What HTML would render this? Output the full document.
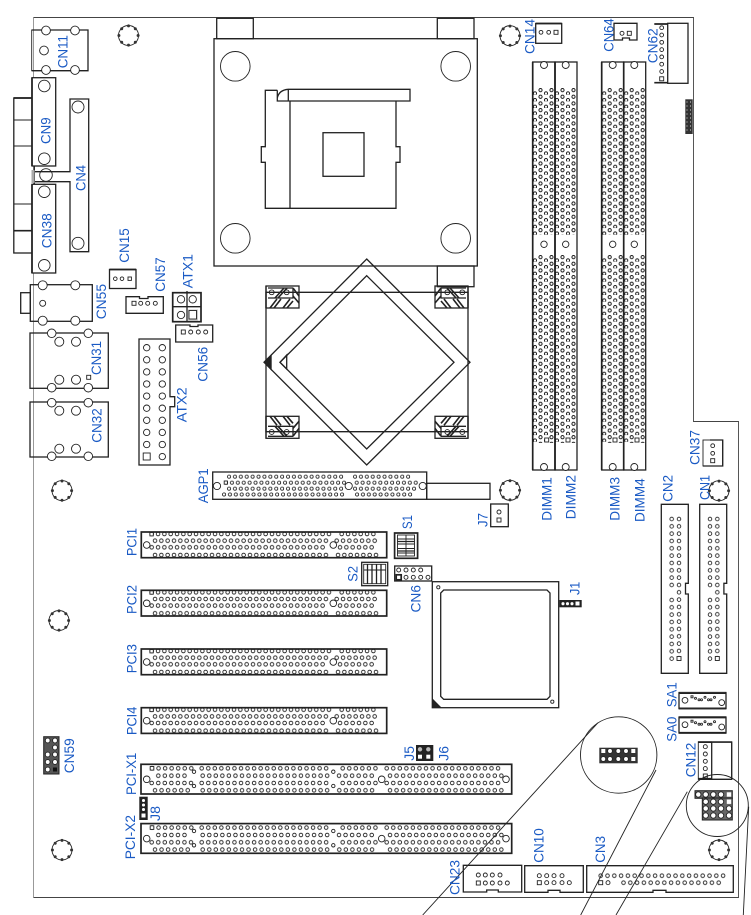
<!DOCTYPE html>
<html><head><meta charset="utf-8"><style>
html,body{margin:0;padding:0;background:#fff}
svg{display:block}
text{font-family:"Liberation Sans",Arial,sans-serif;font-size:14px;fill:#1a5ac4;stroke:none}
.h{stroke-width:1.7}
.m{stroke-width:1.3}
.t{stroke-width:.9}
.w{fill:#fff}
</style></head><body>
<svg xmlns="http://www.w3.org/2000/svg" width="751" height="915" viewBox="0 0 751 915">
<defs>
<pattern id="p" width="6.33" height="6" patternUnits="userSpaceOnUse"><circle cx="3" cy="3" r="1.8" fill="#fff" stroke="#1a1a1a" stroke-width=".85"/></pattern>
<pattern id="q" width="6.55" height="6" patternUnits="userSpaceOnUse"><circle cx="3" cy="3" r="1.8" fill="#fff" stroke="#1a1a1a" stroke-width=".85"/></pattern>
<pattern id="a" width="5.9" height="5" patternUnits="userSpaceOnUse"><circle cx="2.5" cy="2.5" r="1.6" fill="#fff" stroke="#1a1a1a" stroke-width=".8"/></pattern>
<pattern id="c" width="6.8" height="6" patternUnits="userSpaceOnUse"><circle cx="3" cy="3" r="1.8" fill="#fff" stroke="#1a1a1a" stroke-width=".85"/></pattern>
<pattern id="v" width="6" height="7.33" patternUnits="userSpaceOnUse"><circle cx="3" cy="3" r="1.8" fill="#fff" stroke="#1a1a1a" stroke-width=".85"/></pattern>
<pattern id="d" width="11" height="6.67" patternUnits="userSpaceOnUse"><circle cx="2.5" cy="5.4" r="1.6" fill="#fff" stroke="#111" stroke-width=".9"/><circle cx="8" cy="2.1" r="1.6" fill="#fff" stroke="#111" stroke-width=".9"/></pattern>
<g id="sc" fill="none" stroke="#222"><circle r="10" stroke-width=".9"/><g fill="#333" stroke="none"><circle cx="0" cy="-9.6" r="1.5"/><circle cx="6.8" cy="-6.8" r="1.5"/><circle cx="9.6" cy="0" r="1.5"/><circle cx="6.8" cy="6.8" r="1.5"/><circle cx="0" cy="9.6" r="1.5"/><circle cx="-6.8" cy="6.8" r="1.5"/><circle cx="-9.6" cy="0" r="1.5"/><circle cx="-6.8" cy="-6.8" r="1.5"/></g></g>
<g id="pci" fill="none" stroke="#222">
<rect transform="translate(7.4,-1)" width="183.3" height="6" fill="url(#p)" stroke="none"/>
<rect transform="translate(197.4,-1)" width="37.7" height="6" fill="url(#p)" stroke="none"/>
<rect transform="translate(10.7,5.7)" width="177" height="6" fill="url(#p)" stroke="none"/>
<rect transform="translate(192.4,5.7)" width="44" height="6" fill="url(#p)" stroke="none"/>
<rect transform="translate(7.4,12.3)" width="177" height="6" fill="url(#p)" stroke="none"/>
<rect transform="translate(195.7,12.3)" width="37.7" height="6" fill="url(#p)" stroke="none"/>
<rect transform="translate(10.7,20)" width="177" height="6" fill="url(#p)" stroke="none"/>
<rect transform="translate(193.7,20)" width="44" height="6" fill="url(#p)" stroke="none"/>
<rect x="8.6" y="0.5" width="3.4" height="3.4" class="w t"/>
<circle cx="5.4" cy="13" r="3.3" class="w t"/><circle cx="192" cy="13" r="3.3" class="w t"/>
<rect x="0" y="0" width="245.4" height="25.7" class="h"/>
</g>
<g id="pcix" fill="none" stroke="#222">
<rect transform="translate(8,1)" width="45.3" height="6" fill="url(#q)" stroke="none"/>
<circle cx="53" cy="7.4" r="1.7" class="w t"/>
<rect transform="translate(57.7,1)" width="130.5" height="6" fill="url(#q)" stroke="none"/>
<circle cx="192.3" cy="7.4" r="1.7" class="w t"/>
<rect transform="translate(198.7,1)" width="38.8" height="6" fill="url(#q)" stroke="none"/>
<rect transform="translate(242.7,1)" width="117.4" height="6" fill="url(#q)" stroke="none"/>
<rect transform="translate(14.3,8.4)" width="32.2" height="6" fill="url(#q)" stroke="none"/>
<rect transform="translate(58.7,8.4)" width="130.5" height="6" fill="url(#q)" stroke="none"/>
<rect transform="translate(195,8.4)" width="38.8" height="6" fill="url(#q)" stroke="none"/>
<rect transform="translate(246,8.4)" width="117.4" height="6" fill="url(#q)" stroke="none"/>
<rect transform="translate(7.7,15.7)" width="45.3" height="6" fill="url(#q)" stroke="none"/>
<circle cx="53" cy="21.7" r="1.7" class="w t"/>
<rect transform="translate(57.7,15.7)" width="130.5" height="6" fill="url(#q)" stroke="none"/>
<circle cx="192.3" cy="21.7" r="1.7" class="w t"/>
<rect transform="translate(198.7,15.7)" width="38.8" height="6" fill="url(#q)" stroke="none"/>
<rect transform="translate(242.7,15.7)" width="117.4" height="6" fill="url(#q)" stroke="none"/>
<rect transform="translate(11,23)" width="38.8" height="6" fill="url(#q)" stroke="none"/>
<rect transform="translate(58.7,23)" width="130.5" height="6" fill="url(#q)" stroke="none"/>
<rect transform="translate(195.3,23)" width="38.8" height="6" fill="url(#q)" stroke="none"/>
<rect transform="translate(246,23)" width="117.4" height="6" fill="url(#q)" stroke="none"/>
<rect x="9.2" y="2.2" width="3.6" height="3.6" class="w t"/>
<circle cx="5.7" cy="15" r="3.3" class="w t"/><circle cx="240.7" cy="15" r="3.3" class="w t"/><circle cx="365" cy="15" r="3.3" class="w t"/>
<rect x="0" y="0" width="370.7" height="29.7" class="h"/>
</g>
<g id="clip" fill="none" stroke="#222">
<rect x="0" y="0" width="33" height="22" class="m"/>
<path d="M2 12H27V2M2 2H27M0 0V22" class="m"/>
<circle cx="5.7" cy="6.3" r="2.4" class="t"/><circle cx="20.7" cy="6.3" r="2.4" class="t"/>
<path d="M9 12L18 2M12 12L21 2M4 22L11 13M8 22L15 13M17 22L24 13M21 22L27 15M27 2L33 10M27 10L33 17" stroke-width="1.6"/>
</g>
<g id="sa" fill="none" stroke="#222">
<rect x="0" y="0" width="47" height="16.7" class="t"/>
<path d="M0 0V16.7M0 1H47M47 0V16.7M0 15.8H47" class="m"/>
<circle cx="6" cy="8" r="2.9" class="t"/><circle cx="42.7" cy="10.3" r="2.9" class="t"/>
<rect x="12" y="3.5" width="2" height="2" class="t"/>
<g class="t"><circle cx="16.5" cy="6" r="1"/><circle cx="20" cy="7.5" r="1"/><circle cx="22.5" cy="7.5" r="1"/><circle cx="26" cy="5" r="1"/><circle cx="29.5" cy="7.5" r="1"/><circle cx="32" cy="7.5" r="1"/><circle cx="35.5" cy="5" r="1"/></g>
</g>
</defs>

<!-- board outline -->
<path d="M33.5 17.5V897.5" fill="none" stroke="#999" stroke-width="1"/>
<path d="M33.5 17.5H693.5V421.5H738.5V897.5H33.5" fill="none" stroke="#444" stroke-width=".9"/>

<g fill="none" stroke="#222" stroke-width="1">
<use href="#sc" x="128.5" y="35.5"/><use href="#sc" x="510" y="35.7"/><use href="#sc" x="62" y="490.6"/><use href="#sc" x="510" y="490.3"/><use href="#sc" x="719" y="490.7"/><use href="#sc" x="59" y="620.5"/><use href="#sc" x="62" y="850"/><use href="#sc" x="719" y="850"/>

<!-- CN11 -->
<rect x="31.7" y="30" width="56.3" height="40.7" class="t"/>
<path d="M31.7 30H88V70.7H31.7" class="m"/>
<circle cx="46" cy="30.5" r="4.4" class="w t"/><circle cx="75" cy="30.5" r="4.4" class="w t"/><circle cx="44" cy="50.5" r="4.4" class="t"/><circle cx="46" cy="70" r="4.4" class="w t"/><circle cx="75" cy="70" r="4.4" class="w t"/>

<!-- DB connector -->
<rect x="13.8" y="98" width="20.5" height="155" class="m"/>
<path d="M13.8 98H34.3" class="h"/><path d="M13.8 120H32M13.8 146H32M13.8 204H32" class="t"/><path d="M13.8 230.7H32" class="h"/>
<path d="M34 99V166M34 184V253" class="h"/>
<path d="M33 170V183" stroke="#aaa" stroke-width="3"/>
<path d="M35 171.7H70V99H88.7V251.7H70V181.7H35" class="m"/>
<circle cx="78" cy="107" r="6" class="t"/><circle cx="78" cy="243.3" r="6" class="t"/>
<circle cx="46" cy="175" r="6.3" class="t"/>
<rect x="32" y="77.7" width="23.7" height="88.3" class="w m"/><path d="M32 77.7V166" class="h"/>
<rect x="32" y="184.3" width="23.7" height="88.7" class="w m"/><path d="M32 184.3V273" class="h"/>
<circle cx="44.3" cy="86" r="5.8" class="t"/><circle cx="44.3" cy="158.7" r="5.8" class="t"/><circle cx="44.3" cy="191.7" r="5.8" class="t"/><circle cx="44.3" cy="265.3" r="5.8" class="t"/>

<!-- CN15 -->
<rect x="109.5" y="269.5" width="26.5" height="19" class="m"/><path d="M109.5 269.5H136" class="h"/>
<circle cx="115.3" cy="278.7" r="1.8" class="t"/><circle cx="122" cy="278.7" r="1.8" class="t"/><rect x="128" y="277" width="3.4" height="3.4" class="t"/>

<!-- CN55 -->
<rect x="20.7" y="292.7" width="9.6" height="20.6" class="m"/>
<rect x="30.3" y="284.7" width="62" height="36.6" class="m"/>
<circle cx="42.7" cy="285.3" r="4.5" class="w t"/><circle cx="75.3" cy="285.3" r="4.5" class="w t"/><circle cx="42.7" cy="320.7" r="4.5" class="w t"/><circle cx="75.3" cy="320.7" r="4.5" class="w t"/><circle cx="42.7" cy="303.3" r="3" class="t"/>

<!-- CN31 / CN32 -->
<rect x="30" y="333" width="78.3" height="55.3" class="m"/>
<circle cx="51.7" cy="333.3" r="4.3" class="w t"/><circle cx="88.3" cy="333.3" r="4.3" class="w t"/><circle cx="51.7" cy="387.7" r="4.3" class="w t"/><circle cx="88.3" cy="387.7" r="4.3" class="w t"/>
<circle cx="59.3" cy="341.7" r="4.5" class="t"/><circle cx="76" cy="341.7" r="4.5" class="t"/><circle cx="59.3" cy="379.7" r="4.5" class="t"/><circle cx="76" cy="379.7" r="4.5" class="t"/>
<rect x="86.7" y="375.3" width="4" height="4" class="t"/>
<rect x="30" y="402" width="78.3" height="55" class="m"/>
<circle cx="51.7" cy="402.7" r="4.3" class="w t"/><circle cx="88.3" cy="402.7" r="4.3" class="w t"/><circle cx="51.7" cy="456.3" r="4.3" class="w t"/><circle cx="88.3" cy="456.3" r="4.3" class="w t"/>
<circle cx="59.3" cy="410.7" r="4.5" class="t"/><circle cx="76" cy="410.7" r="4.5" class="t"/><circle cx="59.3" cy="448.7" r="4.5" class="t"/><circle cx="76" cy="448.7" r="4.5" class="t"/>

<!-- ATX2 -->
<path d="M139 339H170V396.7H174.7V406.7H170V465H139Z" class="m"/>
<g class="t">
<circle cx="146.7" cy="347.7" r="3.2"/><circle cx="162.3" cy="347.7" r="3.2"/><circle cx="146.7" cy="359.8" r="3.2"/><circle cx="162.3" cy="359.8" r="3.2"/><circle cx="146.7" cy="371.9" r="3.2"/><circle cx="162.3" cy="371.9" r="3.2"/><circle cx="146.7" cy="384" r="3.2"/><circle cx="162.3" cy="384" r="3.2"/><circle cx="146.7" cy="396.1" r="3.2"/><circle cx="162.3" cy="396.1" r="3.2"/><circle cx="146.7" cy="408.2" r="3.2"/><circle cx="162.3" cy="408.2" r="3.2"/><circle cx="146.7" cy="420.3" r="3.2"/><circle cx="162.3" cy="420.3" r="3.2"/><circle cx="146.7" cy="432.4" r="3.2"/><circle cx="162.3" cy="432.4" r="3.2"/><circle cx="146.7" cy="444.5" r="3.2"/><circle cx="162.3" cy="444.5" r="3.2"/>
<rect x="143.2" y="453" width="7" height="7"/><circle cx="162.3" cy="456.6" r="3.2"/>
</g>

<!-- CN57 -->
<path d="M126 296.7H139.5V298.5H148V296.7H163.3V313.3H126Z" class="m"/>
<rect x="132" y="301.3" width="4" height="4" class="t"/><circle cx="140.7" cy="303.3" r="2" class="t"/><circle cx="147.7" cy="303.3" r="2" class="t"/><circle cx="155.3" cy="303.3" r="2" class="t"/>

<!-- ATX1 -->
<rect x="172.7" y="292.7" width="28.3" height="29" class="h"/>
<path d="M187 291V322M173 306.7H201" class="m"/>
<circle cx="181" cy="299.3" r="3.7" class="t"/><circle cx="192.7" cy="299.3" r="3.7" class="t"/><circle cx="181" cy="315" r="3.7" class="t"/>
<rect x="188" y="309.5" width="10" height="11" fill="#ccc" stroke="none"/><rect x="189" y="310.5" width="7.5" height="8.5" class="w t"/>

<!-- CN56 -->
<path d="M175.7 325H190V326.5H198V325H212.7V342H175.7Z" class="m"/>
<rect x="181.3" y="330" width="4" height="4" class="t"/><circle cx="190.7" cy="332" r="2" class="t"/><circle cx="198.3" cy="332" r="2" class="t"/><circle cx="205.7" cy="332" r="2" class="t"/>

<!-- AGP1 -->
<rect x="426.7" y="483.3" width="63.3" height="16" class="m"/>
<rect x="212.7" y="472" width="214" height="27.3" class="m"/>
<rect transform="translate(226.5,474.2)" width="117.1" height="5" fill="url(#a)" stroke="none"/>
<rect transform="translate(352.5,474.2)" width="58.1" height="5" fill="url(#a)" stroke="none"/>
<rect transform="translate(223.5,480.2)" width="123" height="5" fill="url(#a)" stroke="none"/>
<rect transform="translate(354.2,480.2)" width="64" height="5" fill="url(#a)" stroke="none"/>
<rect transform="translate(226.5,486.2)" width="117.1" height="5" fill="url(#a)" stroke="none"/>
<rect transform="translate(352.5,486.2)" width="64" height="5" fill="url(#a)" stroke="none"/>
<rect transform="translate(221.5,492)" width="123" height="5" fill="url(#a)" stroke="none"/>
<rect transform="translate(354.5,492)" width="58.1" height="5" fill="url(#a)" stroke="none"/>
<circle cx="217" cy="486" r="3.6" class="w t"/><circle cx="348.7" cy="486" r="3.6" class="w t"/><circle cx="422.7" cy="486" r="3.6" class="w t"/>
<rect x="224.2" y="481" width="3.2" height="3.2" class="w t"/>

<!-- CPU socket -->
<rect x="216.7" y="18.3" width="36.6" height="20.4" class="m"/>
<rect x="437.3" y="18.3" width="36.7" height="20.4" class="m"/>
<rect x="437.3" y="266" width="36.7" height="20.7" class="m"/>
<rect x="214" y="38.7" width="263.3" height="227.3" class="m"/>
<circle cx="235.3" cy="66.3" r="14.8" class="t"/><circle cx="455.7" cy="66.3" r="14.8" class="t"/><circle cx="235.3" cy="238.3" r="14.8" class="t"/><circle cx="455.7" cy="238.3" r="14.8" class="t"/>
<path d="M277.3 90.3H265.3V146.7H261.3V162.3H265.3V208.3H396V162.3H400V146.7H396V101M290 101V208.3" class="m"/>
<path d="M277.3 90.3V101H410V89.3H288.3Q279 90 277.3 98M288.3 89.3V101" class="m"/>
<rect x="323" y="132.7" width="41" height="43.6" class="m"/>

<!-- Heat sink -->
<path d="M266 292.3H468V431.7H266Z" class="m"/>
<use href="#clip" transform="translate(266,286)"/>
<use href="#clip" transform="translate(468,286) scale(-1,1)"/>
<use href="#clip" transform="translate(266,438.3) scale(1,-1)"/>
<use href="#clip" transform="translate(468,438.3) scale(-1,-1)"/>
<path d="M366.7 259L470 362.3L366.7 465L264 362.3Z" class="m"/>
<path d="M366.7 275.7L454 362.3L366.7 449L280 362.3Z" class="m"/>
<path d="M264 362.3L271.7 354V371Z" fill="#222" stroke="none"/>
<path d="M280 362.3L286.7 355V369Z" class="m"/>

<!-- DIMM -->
<rect x="532.7" y="62" width="22.3" height="408" class="m"/><rect x="555" y="62" width="22" height="408" class="m"/>
<rect x="601.7" y="62" width="22" height="408" class="m"/><rect x="623.7" y="62" width="22" height="408" class="m"/>
<path d="M532.7 62V470M555 62V470M601.7 62V470M623.7 62V470" class="h"/>
<rect transform="translate(532.5,88)" width="22" height="147" fill="url(#d)" stroke="none"/><rect transform="translate(554.5,88)" width="22" height="147" fill="url(#d)" stroke="none"/><rect transform="translate(601.7,88)" width="22" height="147" fill="url(#d)" stroke="none"/><rect transform="translate(623.7,88)" width="22" height="147" fill="url(#d)" stroke="none"/>
<rect transform="translate(532.5,255)" width="22" height="188" fill="url(#d)" stroke="none"/><rect transform="translate(554.5,255)" width="22" height="188" fill="url(#d)" stroke="none"/><rect transform="translate(601.7,255)" width="22" height="188" fill="url(#d)" stroke="none"/><rect transform="translate(623.7,255)" width="22" height="188" fill="url(#d)" stroke="none"/>
<g class="t">
<circle cx="544" cy="65" r="3.5" class="w"/><circle cx="565.7" cy="65" r="3.5" class="w"/><circle cx="612.7" cy="65" r="3.5" class="w"/><circle cx="634.3" cy="65" r="3.5" class="w"/>
<circle cx="544" cy="244.3" r="3.2"/><circle cx="565.7" cy="244.3" r="3.2"/><circle cx="612.7" cy="244.3" r="3.2"/><circle cx="634.3" cy="244.3" r="3.2"/>
<circle cx="544" cy="467" r="3.5" class="w"/><circle cx="565.7" cy="467" r="3.5" class="w"/><circle cx="612.7" cy="467" r="3.5" class="w"/><circle cx="634.3" cy="467" r="3.5" class="w"/>
<rect x="544.7" y="438" width="4" height="4" class="w"/><rect x="566" y="438" width="4" height="4" class="w"/><rect x="613" y="438" width="4" height="4" class="w"/><rect x="635" y="438" width="4" height="4" class="w"/>
</g>

<!-- CN14 CN64 CN62 -->
<rect x="535.7" y="23.5" width="26" height="19.8" class="m"/><path d="M535.7 23.5H561.7" class="h"/>
<circle cx="541" cy="32.3" r="1.9" class="t"/><circle cx="548.7" cy="32.3" r="1.9" class="t"/><rect x="554" y="30.3" width="4" height="4" class="t"/>
<path d="M614 23.3H637V40H629.5V38H622.5V40H614Z" class="m"/>
<circle cx="622" cy="33.3" r="2" class="t"/><rect x="627.3" y="31.3" width="4" height="4" class="t"/>
<rect x="667.7" y="23.3" width="20.3" height="60" class="m"/>
<path d="M654.3 24H668M654.3 82.7H668" class="h"/>
<g class="t"><circle cx="661.7" cy="27.7" r="1.9"/><circle cx="661.7" cy="35" r="1.9"/><circle cx="661.7" cy="42.3" r="1.9"/><circle cx="661.7" cy="49.6" r="1.9"/><circle cx="661.7" cy="56.9" r="1.9"/><circle cx="661.7" cy="64.2" r="1.9"/><circle cx="661.7" cy="71.5" r="1.9"/><rect x="659.7" y="76.8" width="4" height="4"/></g>
<rect x="685.3" y="99.3" width="7.4" height="34.7" fill="#333" stroke="none"/>
<path d="M687 101V132M690.5 101V132" stroke="#888" stroke-width="1" stroke-dasharray="2 2"/>

<!-- CN37 -->
<rect x="703" y="440" width="19.7" height="26" class="t"/><path d="M710 440H722.7V466H703" class="m"/>
<circle cx="712.7" cy="445.7" r="1.9" class="t"/><circle cx="712.7" cy="453.3" r="1.9" class="t"/><rect x="710.7" y="458.7" width="4" height="4" class="t"/>

<!-- CN2 / CN1 -->
<path d="M661.3 504.3H688.3V583.3H685.5V594H688.3V673.3H661.3Z" class="m"/>
<path d="M699.7 504.3H726.7V583.3H723.9V594H726.7V673.3H699.7Z" class="m"/>
<rect transform="translate(668.7,516)" width="6" height="72" fill="url(#v)" stroke="none"/>
<rect transform="translate(668.7,597)" width="6" height="65" fill="url(#v)" stroke="none"/>
<rect transform="translate(676,516)" width="6" height="146" fill="url(#v)" stroke="none"/>
<rect transform="translate(707,516)" width="6" height="72" fill="url(#v)" stroke="none"/>
<rect transform="translate(707,597)" width="6" height="65" fill="url(#v)" stroke="none"/>
<rect transform="translate(714.3,516)" width="6" height="146" fill="url(#v)" stroke="none"/>
<rect x="677" y="656.5" width="4" height="4" class="w t"/><rect x="715.3" y="656.5" width="4" height="4" class="w t"/>

<!-- J7 -->
<rect x="490.7" y="504" width="17.6" height="22.7" class="m"/>
<circle cx="499" cy="512" r="2" class="t"/><rect x="497" y="518" width="4" height="4" class="t"/>

<!-- PGA chip -->
<rect x="432.3" y="581.7" width="126.4" height="126" class="m"/>
<path d="M443.7 590H547L550 593V696.3L547 699.3H443.7L440.7 696.3V593Z" class="m"/>
<circle cx="438.3" cy="587.3" r="1.6" class="t"/><circle cx="552.3" cy="701.7" r="1.6" class="t"/>
<path d="M432.3 698.3V707.7H441.7Z" fill="#222" stroke="none"/>

<!-- J1 -->
<rect x="559.3" y="600" width="22.4" height="7.3" fill="#222" stroke="none"/>
<g class="w t" stroke="#222"><circle cx="563" cy="603.7" r="2"/><circle cx="567.5" cy="603.7" r="2"/><circle cx="572" cy="603.7" r="2"/><rect x="575.5" y="601.5" width="4" height="4" stroke="none"/></g>

<!-- CN6 -->
<rect x="394.7" y="566" width="37" height="15" class="m"/>
<circle cx="398.7" cy="570" r="2" class="t"/><circle cx="406" cy="570" r="2" class="t"/><circle cx="413.3" cy="570" r="2" class="t"/><circle cx="420.7" cy="570" r="2" class="t"/>
<rect x="396.2" y="574.8" width="5" height="5" class="w h"/><circle cx="406" cy="577.3" r="2" class="t"/><circle cx="413.3" cy="577.3" r="2" class="t"/><circle cx="420.7" cy="577.3" r="2" class="t"/><circle cx="428" cy="577.3" r="2" class="t"/>

<!-- S1 S2 -->
<rect x="394.6" y="533" width="23" height="25.3" class="h"/>
<rect x="397.5" y="535" width="17" height="21" class="t"/>
<path d="M397.5 539H414.5M397.5 544H414.5M397.5 548.5H414.5M397.5 553H414.5M406 535V556" class="t"/>
<path d="M397.5 541.5H414.5M397.5 551H414.5" stroke="#222" stroke-width="1.3"/>
<rect x="361.7" y="562.3" width="26" height="23.4" class="m"/>
<rect x="363.7" y="564.3" width="22" height="19.4" class="t"/>
<path d="M367.5 564.3V583.7M372 564.3V583.7M376.5 564.3V583.7M381 564.3V583.7" class="m"/>
<path d="M363.7 570H385.7" class="t"/>

<!-- PCI -->
<use href="#pci" x="141.3" y="532"/>
<use href="#pci" x="141.3" y="590.3"/>
<use href="#pci" x="141.3" y="649"/>
<use href="#pci" x="141.3" y="707.7"/>
<use href="#pcix" x="141" y="764.3"/>
<use href="#pcix" x="141" y="823.6"/>

<!-- CN59 -->
<rect x="43.7" y="736.7" width="15.3" height="37.3" fill="#555" stroke="#222"/>
<g class="w t" stroke="#222"><circle cx="47.7" cy="740.5" r="2.4"/><circle cx="55" cy="740.5" r="2.4"/><circle cx="55" cy="747.5" r="2.4"/><circle cx="47.7" cy="754.5" r="2.4"/><circle cx="55" cy="754.5" r="2.4"/><circle cx="47.7" cy="762" r="2.4"/><circle cx="55" cy="762" r="2.4"/><circle cx="47.7" cy="769.5" r="2.4"/><rect x="53" y="767.5" width="4" height="4" stroke="none" fill="#111"/></g>

<!-- J8 -->
<rect x="139.3" y="796.7" width="8.4" height="23.3" fill="#222" stroke="none"/>
<g class="w t" stroke="#222"><circle cx="143.5" cy="800.5" r="2"/><circle cx="143.5" cy="805" r="2"/><circle cx="143.5" cy="809.5" r="2"/><rect x="141.5" y="813.5" width="4" height="4" stroke="none"/></g>

<!-- J5 J6 -->
<rect x="416" y="745" width="17.3" height="16" fill="#222" stroke="none"/>
<g fill="#bbb" stroke="none"><circle cx="420" cy="749.3" r="2.2"/><circle cx="428.3" cy="749.3" r="2.2"/></g>
<g fill="#fff" stroke="none"><rect x="418" y="754.7" width="4" height="4"/><rect x="426.3" y="754.7" width="4" height="4"/></g>

<!-- CN23 CN10 CN3 -->
<path d="M463.3 865.3H521.7V892H498.3V890H486.7V892H463.3Z" class="m"/>
<g class="t"><circle cx="478.3" cy="875" r="2"/><circle cx="485.3" cy="875" r="2"/><circle cx="492.3" cy="875" r="2"/><circle cx="500" cy="875" r="2"/><rect x="476.3" y="881" width="4" height="4"/><circle cx="485.3" cy="883" r="2"/><circle cx="492.3" cy="883" r="2"/><circle cx="500" cy="883" r="2"/><circle cx="507.3" cy="883" r="2"/></g>
<path d="M524.7 865.7H583.3V892.3H560V890.3H548V892.3H524.7Z" class="m"/>
<g class="t"><circle cx="539.3" cy="875.7" r="2"/><circle cx="546.7" cy="875.7" r="2"/><circle cx="554" cy="875.7" r="2"/><circle cx="562" cy="875.7" r="2"/><rect x="537.3" y="880.7" width="4" height="4"/><circle cx="546.7" cy="882.7" r="2"/><circle cx="554" cy="882.7" r="2"/><circle cx="562" cy="882.7" r="2"/><circle cx="569.3" cy="882.7" r="2"/></g>
<path d="M586.7 865.7H733.3V892.3H666V890.3H653V892.3H586.7Z" class="m"/>
<rect transform="translate(597.7,872.7)" width="128" height="6" fill="url(#c)" stroke="none"/>
<rect transform="translate(620.5,879.7)" width="101" height="6" fill="url(#c)" stroke="none"/>
<rect x="598.7" y="880.7" width="4" height="4" class="t"/><circle cx="608" cy="882.7" r="2" class="t"/>

<!-- SA -->
<use href="#sa" x="679" y="692.3"/>
<use href="#sa" x="679" y="716.7"/>

<!-- CN12 -->
<rect x="698.3" y="741.7" width="33.4" height="37.6" class="t"/>
<path d="M698.3 742.2H731.7V779.3H698.3" class="m"/><path d="M711.7 742V779" class="m"/>
<path d="M698.3 742.2H711.7M698.3 778.7H711.7" class="h"/>
<g class="t"><circle cx="705.3" cy="746.7" r="2"/><circle cx="705.3" cy="754" r="2"/><circle cx="705.3" cy="761.3" r="2"/><circle cx="705.3" cy="768.6" r="2"/><rect x="703.3" y="774" width="4" height="4"/></g>

<!-- magnifier circles -->
<circle cx="618.7" cy="755" r="38.2" class="t"/>
<circle cx="717.3" cy="805.5" r="31" class="t"/>
<rect x="599.3" y="747.7" width="38.4" height="15.6" fill="#333" stroke="none"/>
<g class="w t" stroke="#222"><rect x="601.3" y="749" width="4" height="4" stroke="none"/><circle cx="610" cy="751" r="2.4"/><circle cx="618.3" cy="751" r="2.4"/><circle cx="626" cy="751" r="2.4"/><rect x="631.3" y="749" width="4" height="4" stroke="none"/><circle cx="603.3" cy="759" r="2.4"/><circle cx="610" cy="759" r="2.4"/><circle cx="618.3" cy="759" r="2.4"/><circle cx="626" cy="759" r="2.4"/><rect x="631.3" y="757" width="4" height="4" stroke="none"/></g>
<rect x="695" y="790.7" width="37.3" height="7.6" fill="#666" stroke="#222"/>
<rect x="702.3" y="798" width="30" height="22" fill="#666" stroke="#222"/>
<g class="w t" stroke="#222"><circle cx="698.3" cy="794.5" r="2.7"/><circle cx="705.7" cy="794.5" r="2.7"/><circle cx="713.3" cy="794.5" r="2.7"/><circle cx="721" cy="794.5" r="2.7"/><rect x="726.8" y="792.3" width="4.4" height="4.4" stroke="none"/>
<circle cx="705.7" cy="801.7" r="2.7"/><circle cx="713.3" cy="801.7" r="2.7"/><circle cx="721" cy="801.7" r="2.7"/><rect x="726.8" y="799.5" width="4.4" height="4.4" stroke="none"/>
<circle cx="705.7" cy="808.5" r="2.7"/><circle cx="713.3" cy="808.5" r="2.7"/><circle cx="721" cy="808.5" r="2.7"/><circle cx="729" cy="808.5" r="2.7"/>
<circle cx="705.7" cy="815.5" r="2.7"/><circle cx="713.3" cy="815.5" r="2.7"/><circle cx="721" cy="815.5" r="2.7"/><circle cx="729" cy="815.5" r="2.7"/></g>

<!-- leader lines -->
<path d="M598 722.7L422.7 915M656 770L580.7 915M687.3 791.7L616 915M748.7 806.7L743.3 915" stroke="#222" stroke-width=".9"/>
</g>

<!-- labels -->
<g>
<text transform="translate(67.7,68.3) rotate(-90)" textLength="33.3" lengthAdjust="spacingAndGlyphs">CN11</text>
<text transform="translate(50.3,144) rotate(-90)" textLength="26.7" lengthAdjust="spacingAndGlyphs">CN9</text>
<text transform="translate(85.3,191) rotate(-90)" textLength="26" lengthAdjust="spacingAndGlyphs">CN4</text>
<text transform="translate(51.7,248.3) rotate(-90)" textLength="35" lengthAdjust="spacingAndGlyphs">CN38</text>
<text transform="translate(129,262.7) rotate(-90)" textLength="34.4" lengthAdjust="spacingAndGlyphs">CN15</text>
<text transform="translate(165,291.7) rotate(-90)" textLength="34.4" lengthAdjust="spacingAndGlyphs">CN57</text>
<text transform="translate(192.7,288.3) rotate(-90)" textLength="34.3" lengthAdjust="spacingAndGlyphs">ATX1</text>
<text transform="translate(106,319.3) rotate(-90)" textLength="35.3" lengthAdjust="spacingAndGlyphs">CN55</text>
<text transform="translate(101,375) rotate(-90)" textLength="34" lengthAdjust="spacingAndGlyphs">CN31</text>
<text transform="translate(101.7,442.7) rotate(-90)" textLength="34.4" lengthAdjust="spacingAndGlyphs">CN32</text>
<text transform="translate(186.7,422.3) rotate(-90)" textLength="35" lengthAdjust="spacingAndGlyphs">ATX2</text>
<text transform="translate(207.7,381.7) rotate(-90)" textLength="35" lengthAdjust="spacingAndGlyphs">CN56</text>
<text transform="translate(208,503.3) rotate(-90)" textLength="35" lengthAdjust="spacingAndGlyphs">AGP1</text>
<text transform="translate(534.3,54) rotate(-90)" textLength="35" lengthAdjust="spacingAndGlyphs">CN14</text>
<text transform="translate(613.3,51.7) rotate(-90)" textLength="33.4" lengthAdjust="spacingAndGlyphs">CN64</text>
<text transform="translate(657.7,63.3) rotate(-90)" textLength="35" lengthAdjust="spacingAndGlyphs">CN62</text>
<text transform="translate(699.3,465) rotate(-90)" textLength="35" lengthAdjust="spacingAndGlyphs">CN37</text>
<text transform="translate(551.7,520.7) rotate(-90)" textLength="43.4" lengthAdjust="spacingAndGlyphs">DIMM1</text>
<text transform="translate(575.7,519.3) rotate(-90)" textLength="44.3" lengthAdjust="spacingAndGlyphs">DIMM2</text>
<text transform="translate(619.3,520.7) rotate(-90)" textLength="43.7" lengthAdjust="spacingAndGlyphs">DIMM3</text>
<text transform="translate(644.7,522) rotate(-90)" textLength="43.7" lengthAdjust="spacingAndGlyphs">DIMM4</text>
<text transform="translate(672.7,501.7) rotate(-90)" textLength="26.7" lengthAdjust="spacingAndGlyphs">CN2</text>
<text transform="translate(709.3,500) rotate(-90)" textLength="25" lengthAdjust="spacingAndGlyphs">CN1</text>
<text transform="translate(579.3,595) rotate(-90)" textLength="13.3" lengthAdjust="spacingAndGlyphs">J1</text>
<text transform="translate(412,529) rotate(-90)" textLength="14" lengthAdjust="spacingAndGlyphs">S1</text>
<text transform="translate(357.3,581.7) rotate(-90)" textLength="15.7" lengthAdjust="spacingAndGlyphs">S2</text>
<text transform="translate(420.5,612.5) rotate(-90)" textLength="27.5" lengthAdjust="spacingAndGlyphs">CN6</text>
<text transform="translate(136.7,556) rotate(-90)" textLength="28" lengthAdjust="spacingAndGlyphs">PCI1</text>
<text transform="translate(136.7,614) rotate(-90)" textLength="29" lengthAdjust="spacingAndGlyphs">PCI2</text>
<text transform="translate(136.7,673.3) rotate(-90)" textLength="29.3" lengthAdjust="spacingAndGlyphs">PCI3</text>
<text transform="translate(136.7,735) rotate(-90)" textLength="28.3" lengthAdjust="spacingAndGlyphs">PCI4</text>
<text transform="translate(136,795) rotate(-90)" textLength="42.3" lengthAdjust="spacingAndGlyphs">PCI-X1</text>
<text transform="translate(135,859.3) rotate(-90)" textLength="44.3" lengthAdjust="spacingAndGlyphs">PCI-X2</text>
<text transform="translate(160,821) rotate(-90)" textLength="15" lengthAdjust="spacingAndGlyphs">J8</text>
<text transform="translate(74,773.3) rotate(-90)" textLength="35" lengthAdjust="spacingAndGlyphs">CN59</text>
<text transform="translate(414,760.7) rotate(-90)" textLength="14.7" lengthAdjust="spacingAndGlyphs">J5</text>
<text transform="translate(448.3,760.7) rotate(-90)" textLength="14.7" lengthAdjust="spacingAndGlyphs">J6</text>
<text transform="translate(459.3,895) rotate(-90)" textLength="35" lengthAdjust="spacingAndGlyphs">CN23</text>
<text transform="translate(543.3,862.7) rotate(-90)" textLength="34.4" lengthAdjust="spacingAndGlyphs">CN10</text>
<text transform="translate(605,862.7) rotate(-90)" textLength="26.7" lengthAdjust="spacingAndGlyphs">CN3</text>
<text transform="translate(676.7,707.3) rotate(-90)" textLength="25" lengthAdjust="spacingAndGlyphs">SA1</text>
<text transform="translate(676.7,741.7) rotate(-90)" textLength="25" lengthAdjust="spacingAndGlyphs">SA0</text>
<text transform="translate(695.7,777.3) rotate(-90)" textLength="34.6" lengthAdjust="spacingAndGlyphs">CN12</text>
<text transform="translate(487.7,527) rotate(-90)" textLength="14" lengthAdjust="spacingAndGlyphs">J7</text>
</g>
</svg>
</body></html>
